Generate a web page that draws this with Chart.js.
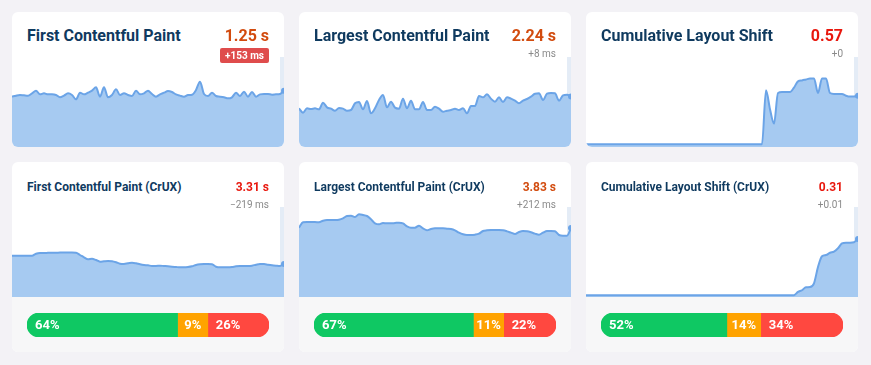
<!DOCTYPE html>
<html>
<head>
<meta charset="utf-8">
<script src="https://cdn.jsdelivr.net/npm/chart.js@4.4.1/dist/chart.umd.min.js"></script>
<style>
html,body{margin:0;padding:0;background:#f3f2f6;}
body{width:871px;height:365px;position:relative;overflow:hidden;font-family:Roboto,"Noto Sans",Arial,sans-serif;}
.card{position:absolute;width:272px;background:#fff;border-radius:6px;overflow:hidden;}
.col0{left:12px;} .col1{left:299px;} .col2{left:586px;}
.top{top:12px;height:135px;}
.bot{top:162px;height:190px;}
.title{position:absolute;left:15px;color:#0f3a5f;font-weight:700;white-space:nowrap;z-index:2;}
.top .title{top:14px;font-size:16px;line-height:20px;}
.bot .title{top:17px;font-size:12px;line-height:16px;}
.val{position:absolute;right:15px;font-weight:700;white-space:nowrap;z-index:2;}
.top .val{top:14px;font-size:16px;line-height:20px;}
.bot .val{top:17px;font-size:12px;line-height:16px;}
.ni{color:#d24b0e;} .poor{color:#e8170d;}
.delta{position:absolute;right:15px;color:#8a8a8a;font-size:10px;line-height:14px;white-space:nowrap;z-index:2;}
.top .delta{top:35px;}
.bot .delta{top:36px;}
.delta.badge{top:36px;background:#df4c4c;color:#fff;font-weight:700;line-height:15px;padding:0 5px;border-radius:2px;}
.chart{position:absolute;left:0;top:45px;z-index:1;}
.foot{position:absolute;left:0;top:135px;width:272px;height:55px;background:#f7f7f8;}
.bar{position:absolute;left:15px;top:16px;}
</style>
</head>
<body>
<script>
// ---- text ----
const titles = ["First Contentful Paint", "Largest Contentful Paint", "Cumulative Layout Shift",
  "First Contentful Paint (CrUX)", "Largest Contentful Paint (CrUX)", "Cumulative Layout Shift (CrUX)"];
const currentValues = ["1.25 s", "2.24 s", "0.57", "3.31 s", "3.83 s", "0.31"];
const ratings = ["ni", "ni", "poor", "poor", "ni", "poor"];
const changes = ["+153 ms", "+8 ms", "+0", "\u2212219 ms", "+212 ms", "+0.01"];
const changeFlagged = [true, false, false, false, false, false];

// ---- series (one value per day) ----
const fcpLab = [1119,1141,1156,1148,1141,1193,1252,1170,1193,1170,
  1170,1156,1104,1141,1193,1156,1059,1207,1170,1207,
  1252,1326,1119,1326,1104,1156,1281,1156,1193,1156,
  1133,1252,1170,1193,1252,1178,1119,1170,1207,1244,
  1222,1170,1141,1119,1156,1163,1267,1452,1178,1133,
  1207,1133,1119,1104,1081,1104,1207,1133,1230,1119,
  1222,1119,1170,1178,1178,1163,1170,1178,1250];
const lcpLab = [1719,1526,1719,1689,1719,1674,1970,1763,1704,1615,
  1733,1704,1615,1644,1941,2000,1674,2044,1496,1719,
  2089,2311,1763,2015,1748,1704,2148,1719,2059,1674,
  1674,2000,1644,1644,1793,1704,1570,1615,1644,1704,
  1644,1719,1496,1822,1822,2267,2207,2341,2148,2015,
  2207,2000,2207,2148,2059,1941,2059,2133,2237,2370,
  2385,2089,2370,2400,2385,2059,2296,2326,2240];
const clsLab = [0.03,0.03,0.03,0.03,0.03,0.03,0.03,0.03,0.03,0.03,
  0.03,0.03,0.03,0.03,0.03,0.03,0.03,0.03,0.03,0.03,
  0.03,0.03,0.03,0.03,0.03,0.03,0.03,0.03,0.03,0.03,
  0.03,0.03,0.03,0.03,0.03,0.03,0.03,0.03,0.03,0.03,
  0.03,0.03,0.03,0.03,0.03,0.63,0.42,0.26,0.60,0.61,
  0.61,0.61,0.66,0.73,0.74,0.75,0.76,0.76,0.60,0.76,
  0.76,0.60,0.59,0.59,0.59,0.57,0.56,0.56,0.57];
const fcpCrux = [4130,4130,4130,4130,4130,4130,4330,4400,4400,4420,
  4430,4430,4440,4440,4440,4440,4420,4200,3970,3770,
  3830,3700,3530,3570,3600,3570,3470,3330,3300,3370,
  3430,3370,3270,3200,3170,3100,3100,3130,3100,3070,
  3030,3000,2970,2970,3000,3070,3200,3270,3300,3300,
  3270,3030,2970,2970,2970,3000,3070,3100,3100,3100,
  3130,3230,3300,3300,3230,3170,3130,3100,3310];
const lcpCrux = [3850,4150,4167,4167,4167,4148,4240,4278,4278,4278,
  4296,4370,4500,4520,4444,4593,4556,4500,4315,4093,
  4037,4111,4093,4093,4111,4130,4093,3926,3852,3852,
  3963,3815,3704,3778,3815,3815,3815,3796,3778,3704,
  3574,3482,3444,3444,3463,3519,3667,3704,3722,3722,
  3722,3704,3648,3574,3500,3611,3667,3648,3593,3519,
  3463,3574,3667,3667,3648,3444,3407,3407,3830];
const clsCrux = [0.01,0.01,0.01,0.01,0.01,0.01,0.01,0.01,0.01,0.01,
  0.01,0.01,0.01,0.01,0.01,0.01,0.01,0.01,0.01,0.01,
  0.01,0.01,0.01,0.01,0.01,0.01,0.01,0.01,0.01,0.01,
  0.01,0.01,0.01,0.01,0.01,0.01,0.01,0.01,0.01,0.01,
  0.01,0.01,0.01,0.01,0.01,0.01,0.01,0.01,0.01,0.01,
  0.01,0.01,0.01,0.027,0.036,0.052,0.053,0.073,0.16,0.217,
  0.224,0.236,0.242,0.26,0.286,0.29,0.29,0.292,0.31];
const yMax = [2000, 4000, 1, 9000, 5000, 0.48];

// ---- CrUX distribution (%) ----
const cruxGood = [64, 67, 52];
const cruxNeeds = [9, 11, 14];
const cruxPoor = [26, 22, 34];
const MIN_SEGMENT_SHARE = 12.5; // narrow middle segments are widened to this share

const LINE = '#6ba4e7', FILL = '#a6caf1', BAND = '#e4ecf6';
const GREEN = '#0fc863', ORANGE = '#ffa300', RED = '#ff4840';

const series = [fcpLab, lcpLab, clsLab, fcpCrux, lcpCrux, clsCrux];

const lastBand = {
  id: 'lastBand',
  beforeDatasetsDraw(chart) {
    const a = chart.chartArea, meta = chart.getDatasetMeta(0);
    const pt = meta.data[meta.data.length - 1];
    const ctx = chart.ctx;
    ctx.save(); ctx.fillStyle = BAND;
    ctx.fillRect(pt.x - 4, a.top, a.right - pt.x + 4, a.bottom - a.top);
    ctx.restore();
  }
};

const segLabels = {
  id: 'segLabels',
  afterDatasetsDraw(chart) {
    const ctx = chart.ctx;
    ctx.save();
    ctx.font = 'bold 13px Roboto, "Noto Sans", sans-serif';
    ctx.fillStyle = '#fff'; ctx.textBaseline = 'middle'; ctx.textAlign = 'left';
    chart.data.datasets.forEach((ds, i) => {
      const el = chart.getDatasetMeta(i).data[0];
      const left = Math.min(el.base, el.x), right = Math.max(el.base, el.x);
      const text = ds.pct + '%';
      const tw = ctx.measureText(text).width;
      const x = (right - left >= tw + 16) ? left + 8 : (left + right - tw) / 2;
      ctx.fillText(text, x, el.y + 0.5);
    });
    ctx.restore();
  }
};

function displayShares(g, n, p) {
  const t = g + n + p;
  const nn = n / t * 100;
  if (nn >= MIN_SEGMENT_SHARE) return [g / t * 100, nn, p / t * 100];
  const rest = 100 - MIN_SEGMENT_SHARE;
  return [g / (g + p) * rest, MIN_SEGMENT_SHARE, p / (g + p) * rest];
}

for (let k = 0; k < 6; k++) {
  const isTop = k < 3;
  const card = document.createElement('div');
  card.className = 'card ' + (isTop ? 'top' : 'bot') + ' col' + (k % 3);
  document.body.appendChild(card);

  const t = document.createElement('div'); t.className = 'title'; t.textContent = titles[k]; card.appendChild(t);
  const v = document.createElement('div'); v.className = 'val ' + ratings[k]; v.textContent = currentValues[k]; card.appendChild(v);
  const d = document.createElement('div'); d.className = 'delta' + (changeFlagged[k] ? ' badge' : ''); d.textContent = changes[k]; card.appendChild(d);

  const cv = document.createElement('canvas');
  cv.className = 'chart'; cv.width = 272; cv.height = 90;
  card.appendChild(cv);
  const data = series[k];
  const labels = data.map((_, i) => i + 1);
  new Chart(cv, {
    type: 'line',
    data: { labels, datasets: [{
      data, borderColor: LINE, backgroundColor: FILL, fill: 'origin', borderWidth: 2,
      cubicInterpolationMode: 'monotone',
      pointRadius: c => c.dataIndex === data.length - 1 ? 3 : 0,
      pointBackgroundColor: LINE, pointBorderWidth: 0, pointHoverRadius: 0
    }]},
    options: {
      responsive: false, animation: false, events: [],
      layout: { padding: 0, autoPadding: false },
      plugins: { legend: { display: false }, tooltip: { enabled: false } },
      scales: { x: { display: false }, y: { display: false, min: 0, max: yMax[k] } }
    },
    plugins: [lastBand]
  });

  if (!isTop) {
    const j = k - 3;
    const foot = document.createElement('div'); foot.className = 'foot'; card.appendChild(foot);
    const bc = document.createElement('canvas'); bc.className = 'bar'; bc.width = 242; bc.height = 24;
    foot.appendChild(bc);
    const shares = displayShares(cruxGood[j], cruxNeeds[j], cruxPoor[j]);
    const pcts = [cruxGood[j], cruxNeeds[j], cruxPoor[j]];
    const colors = [GREEN, ORANGE, RED];
    const radii = [
      { topLeft: 12, bottomLeft: 12, topRight: 0, bottomRight: 0 },
      0,
      { topLeft: 0, bottomLeft: 0, topRight: 12, bottomRight: 12 }
    ];
    new Chart(bc, {
      type: 'bar',
      data: { labels: ['CrUX'], datasets: shares.map((s, i) => ({
        data: [s], pct: pcts[i], backgroundColor: colors[i], borderRadius: radii[i],
        borderSkipped: false, barPercentage: 1, categoryPercentage: 1, borderWidth: 0
      }))},
      options: {
        indexAxis: 'y', responsive: false, animation: false, events: [],
        layout: { padding: 0, autoPadding: false },
        plugins: { legend: { display: false }, tooltip: { enabled: false } },
        scales: { x: { display: false, stacked: true, min: 0, max: 100 }, y: { display: false, stacked: true } }
      },
      plugins: [segLabels]
    });
  }
}
</script>
</body>
</html>
